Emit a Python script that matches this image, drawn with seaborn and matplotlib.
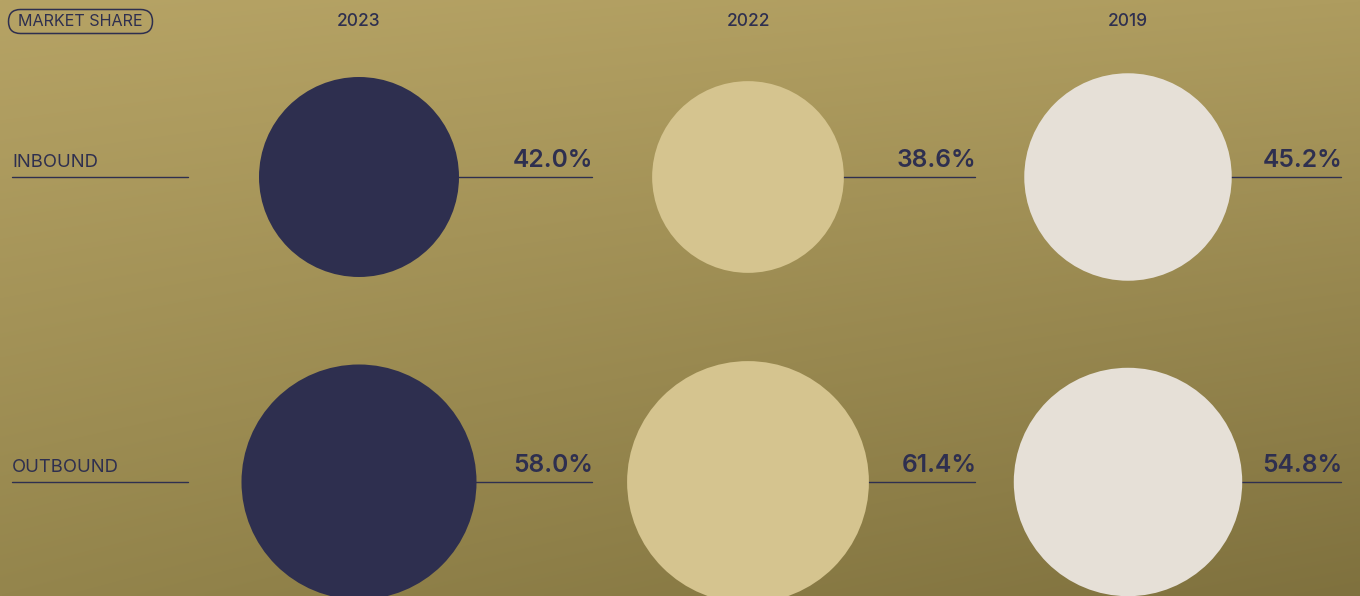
import numpy as np
import pandas as pd
import matplotlib
matplotlib.use("Agg")
import matplotlib.pyplot as plt
from matplotlib.patches import FancyBboxPatch
import seaborn as sns

# ---- data ----
years = ["2023", "2022", "2019"]
rows = ["INBOUND", "OUTBOUND"]
inbound = [42.0, 38.6, 45.2]
outbound = [58.0, 61.4, 54.8]
title_label = "MARKET SHARE"

# ---- layout / style ----
W, H = 1360, 596
col_x = [359, 748, 1128]
col_line_end = [592, 975, 1341]
row_y = [177, 482]
navy = "#2e2f4f"
colors = {"2023": "#2e2f4f", "2022": "#d5c48f", "2019": "#e6e0d7"}

sns.set_theme(style="white")
plt.rcParams["font.family"] = ["Inter", "DejaVu Sans"]

records = []
for i, y in enumerate(years):
    records.append({"year": y, "row": "INBOUND", "value": inbound[i],
                    "x": col_x[i], "y": row_y[0]})
    records.append({"year": y, "row": "OUTBOUND", "value": outbound[i],
                    "x": col_x[i], "y": row_y[1]})
df = pd.DataFrame(records)

fig = plt.figure(figsize=(W / 100, H / 100), dpi=100)
ax = fig.add_axes([0, 0, 1, 1])
ax.set_xlim(0, W)
ax.set_ylim(H, 0)
ax.axis("off")

# background gradient
yy, xx = np.mgrid[0:1:200j, 0:1:400j]
tl = np.array([182, 163, 101]) / 255
tr = np.array([174, 156, 95]) / 255
bl = np.array([148, 133, 76]) / 255
br = np.array([127, 113, 62]) / 255
grad = (tl * ((1 - xx) * (1 - yy))[..., None] + tr * (xx * (1 - yy))[..., None]
        + bl * ((1 - xx) * yy)[..., None] + br * (xx * yy)[..., None])
ax.imshow(grad, extent=[0, W, H, 0], aspect="auto", zorder=0, interpolation="bilinear")

# connector lines and labels
for r, ry in enumerate(row_y):
    vals = inbound if r == 0 else outbound
    ax.plot([12, 188], [ry, ry], color=navy, lw=1, zorder=1)
    ax.text(12, ry - 10, rows[r], color=navy, fontsize=13.3, ha="left",
            va="baseline", zorder=3)
    for i in range(len(years)):
        ax.plot([col_x[i], col_line_end[i]], [ry, ry], color=navy, lw=1, zorder=1)
        ax.text(col_line_end[i] + 1.5, ry - 10, f"{vals[i]:.1f}%", color=navy,
                fontsize=17.7, fontweight="semibold", ha="right",
                va="baseline", zorder=3)

# circles: area proportional to value
k = 15.43  # px radius per sqrt(value)
s100 = (2 * k * np.sqrt(100) * 0.72) ** 2
sns.scatterplot(data=df, x="x", y="y", hue="year", palette=colors,
                size="value", sizes=(0, s100), size_norm=(0, 100),
                linewidth=0, legend=False, ax=ax, zorder=2, alpha=1)
ax.set_xlim(0, W)
ax.set_ylim(H, 0)
ax.axis("off")

for i, y in enumerate(years):
    ax.text(col_x[i], 21, y, color=navy, fontsize=12.5, fontweight="medium",
            ha="center", va="center", zorder=3)

ax.add_patch(FancyBboxPatch((8.5, 9.5), 144, 24,
                            boxstyle="round,pad=0,rounding_size=12",
                            fc="none", ec=navy, lw=1.1, zorder=3))
ax.text(80.5, 21.5, title_label, color=navy, fontsize=11.6, ha="center",
        va="center", zorder=3)

fig.savefig("out.png", dpi=100)
